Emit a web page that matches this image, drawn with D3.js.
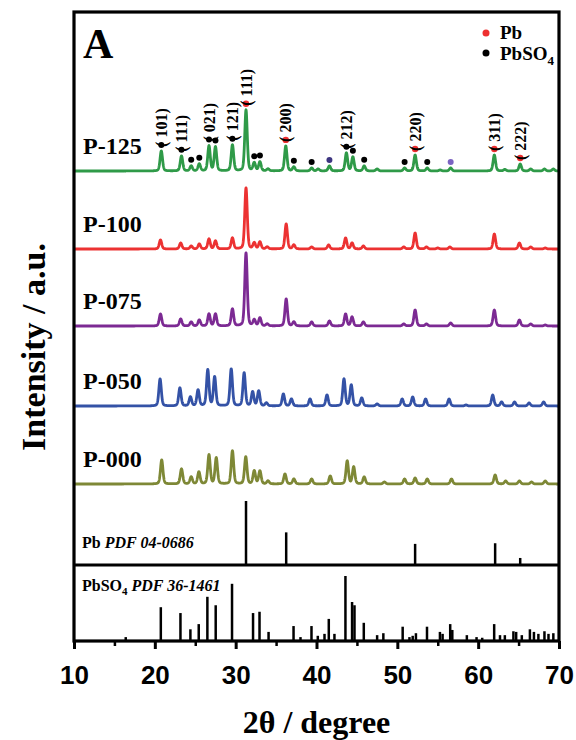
<!DOCTYPE html>
<html lang="en">
<head>
<meta charset="utf-8">
<title>XRD - P samples</title>
<script src="https://cdn.jsdelivr.net/npm/d3@7"></script>
<style>
  body { margin: 0; background: #fff; }
  text { font-family: "Liberation Serif", "Times New Roman", serif; font-weight: bold; }
</style>
</head>
<body>
<div id="chart"></div>
<script>
// samples, bottom to top
var samples = ["P-000", "P-050", "P-075", "P-100", "P-125"];
var sampleColors = ["#7e8836", "#3452a6", "#7c2a93", "#ec3232", "#2f9a48"];
var sampleOffsets = [81, 159, 239, 316, 394];

// peaks: [2theta, height]
var p000 = [[20.85,24],[23.3,15],[24.5,7],[25.45,12],[26.7,29],[27.6,26],[29.6,33],[31.25,27],[32.3,13],[33.0,13],[34.0,3],[36.1,10],[37.2,5],[39.4,5],[41.7,8],[43.8,23],[44.6,17],[45.9,7],[48.4,2],[50.9,5],[52.2,6],[53.7,5],[56.7,5],[62.1,9],[63.4,3],[65.1,3],[66.6,2],[68.3,3]];
var p050 = [[20.65,27],[23.1,18],[24.4,9],[25.35,16],[26.55,36],[27.4,29],[29.45,37],[31.05,33],[32.1,14],[32.85,15],[33.8,3],[35.9,12],[36.9,7],[39.2,7],[41.3,11],[43.4,27],[44.3,21],[45.6,8],[47.5,2],[50.6,7],[51.9,9],[53.5,7],[56.4,7],[58.5,1],[61.8,11],[62.9,4],[64.5,4],[66.3,3],[68.1,4]];
var p075 = [[20.7,12],[23.2,7],[24.5,4],[25.5,6],[26.7,12],[27.5,12],[29.6,17],[31.28,73],[32.3,6],[33.0,8],[33.9,2],[36.25,27],[37.2,4],[39.4,4],[41.6,5],[43.6,12],[44.4,9],[45.8,4],[50.8,2],[52.2,16],[53.6,2],[56.6,3],[62.0,16],[65.1,6],[66.5,2],[68.3,1]];
var p100 = [[20.7,9],[23.2,6],[24.5,3],[25.5,5],[26.7,10],[27.5,8],[29.6,11],[31.28,61],[32.3,6],[33.0,7],[33.9,2],[36.25,25],[37.2,4],[39.4,2],[41.5,4],[43.6,11],[44.4,6],[45.8,3],[50.8,2],[52.2,16],[53.6,2],[55.0,1],[56.5,2],[62.0,15],[65.1,6],[66.5,2],[68.3,1]];
var p125 = [[20.8,20],[23.3,15],[24.5,5],[25.5,7],[26.7,25],[27.5,24],[29.6,26],[31.28,61],[32.3,8],[33.0,9],[34.0,2],[36.2,25],[37.2,4],[39.4,3],[40.2,2],[41.6,5],[43.7,18],[44.5,14],[45.9,5],[47.5,2],[50.9,3],[52.2,16],[53.7,3],[55.3,1],[56.6,3],[62.0,16],[63.3,1.5],[65.2,7],[66.5,2],[68.2,2],[69.3,2]];
var samplePeaks = [p000, p050, p075, p100, p125];

// reference cards
var pbSticks = [[31.28,100],[36.25,51],[52.2,33],[62.1,34],[65.2,11]];
var pbso4Sticks = [[16.4,6],[20.74,52],[23.17,43],[24.4,18],[25.43,26],[26.5,68],[27.53,55],[29.55,88],[32.15,43],[32.95,45],[34.07,14],[37.16,23],[38.02,6],[39.38,23],[40.16,8],[40.99,11],[41.52,34],[42.22,11],[43.58,100],[44.4,60],[44.7,55],[45.85,28],[47.5,9],[48.27,12],[50.66,22],[51.5,6],[51.9,8],[52.3,12],[53.67,22],[55.27,14],[55.6,11],[56.54,26],[56.8,17],[58.6,9],[59.8,6],[60.5,5],[61.98,26],[62.7,9],[63.3,9],[64.36,15],[64.7,14],[65.4,9],[66.4,18],[66.9,14],[67.45,11],[68.2,15],[68.7,11],[69.3,12]];

// phase markers on P-125
var pbMarks = [31.28, 36.2, 52.2, 62.0, 65.2];
var pbso4Marks = [20.8, 23.3, 24.5, 25.5, 26.7, 27.5, 29.6, 32.3, 33.0, 37.2, 39.4, 43.7, 44.5, 45.9, 50.9, 53.7];
var otherMarks = [41.6, 56.6];
var otherMarkColors = ["#3d3580", "#7b63c2"];

var hklAngles = [20.8, 23.3, 26.7, 29.6, 31.28, 36.2, 43.7, 52.2, 62.0, 65.2];
var hklLabels = ["( 101)", "( 111)", "( 021)", "( 121)", "( 111)", "( 200)", "( 212)", "( 220)", "( 311)", "( 222)"];

var xTicks = [10, 20, 30, 40, 50, 60, 70];
var xMinor = [15, 25, 35, 45, 55, 65];

var W = 576, H = 740;
var mLeft = 74, mRight = 559, mTop = 12, mBottom = 641, mSplit = 565;

var svg = d3.select("#chart").append("svg")
    .attr("width", W).attr("height", H);

var x = d3.scaleLinear().domain([10, 70]).range([mLeft, mRight]);
var y = d3.scaleLinear().domain([0, 500]).range([mSplit, mSplit - 500]);
var yPb = d3.scaleLinear().domain([0, 100]).range([mSplit, 501]);
var ySo4 = d3.scaleLinear().domain([0, 100]).range([mBottom, 576]);

// peak shape on a 2theta grid
var fwhm = 0.36, eta = 0.3;
function profile(peaks, t) {
    var s = 0;
    peaks.forEach(function(p){
        var u = (t - p[0]) / (fwhm / 2);
        s += p[1] * (eta / (1 + u*u) + (1 - eta) * Math.exp(-Math.LN2 * u*u));
    });
    return s;
}
var grid = d3.range(10, 70.001, 0.02);

var line = d3.line().x(function(d){ return x(d[0]); }).y(function(d){ return y(d[1]); });

samplePeaks.forEach(function(peaks, i){
    var pts = grid.map(function(t){ return [t, sampleOffsets[i] + profile(peaks, t)]; });
    svg.append("path")
        .attr("d", line(pts))
        .attr("fill", "none")
        .attr("stroke", sampleColors[i])
        .attr("stroke-width", 2.8)
        .attr("stroke-linejoin", "round");
    svg.append("text")
        .attr("x", 83)
        .attr("y", y(sampleOffsets[i]) - 17)
        .attr("font-size", 24)
        .text(samples[i]);
});

// markers on top trace
function markY(t){ return y(sampleOffsets[4] + profile(p125, t)) - 6; }
svg.selectAll(".mpbso4").data(pbso4Marks).enter().append("circle")
    .attr("cx", function(d){ return x(d); }).attr("cy", markY).attr("r", 3).attr("fill", "#000");
svg.selectAll(".mother").data(otherMarks).enter().append("circle")
    .attr("cx", function(d){ return x(d); }).attr("cy", markY).attr("r", 3)
    .attr("fill", function(d, i){ return otherMarkColors[i]; });
svg.selectAll(".mpb").data(pbMarks).enter().append("circle")
    .attr("cx", function(d){ return x(d); }).attr("cy", markY).attr("r", 3.2).attr("fill", "#ee3030");

hklAngles.forEach(function(t, i){
    var yy = markY(t) + 2;
    svg.append("text")
        .attr("transform", "translate(" + x(t) + "," + yy + ") rotate(-90)")
        .attr("dy", "0.35em")
        .attr("font-size", 16)
        .attr("font-weight", "normal")
        .text(hklLabels[i]);
});

// reference sticks
svg.selectAll(".pb").data(pbSticks).enter().append("line")
    .attr("x1", function(d){ return x(d[0]); }).attr("x2", function(d){ return x(d[0]); })
    .attr("y1", mSplit).attr("y2", function(d){ return yPb(d[1]); })
    .attr("stroke", "#000").attr("stroke-width", 2.5);
svg.selectAll(".so4").data(pbso4Sticks).enter().append("line")
    .attr("x1", function(d){ return x(d[0]); }).attr("x2", function(d){ return x(d[0]); })
    .attr("y1", mBottom).attr("y2", function(d){ return ySo4(d[1]); })
    .attr("stroke", "#000").attr("stroke-width", 2.5);

var t1 = svg.append("text").attr("x", 82).attr("y", 548).attr("font-size", 16);
t1.append("tspan").text("Pb ");
t1.append("tspan").attr("font-style", "italic").text("PDF 04-0686");
var t2 = svg.append("text").attr("x", 82).attr("y", 591).attr("font-size", 16);
t2.append("tspan").text("PbSO");
t2.append("tspan").attr("font-size", 11).attr("dy", 4).text("4");
t2.append("tspan").attr("dy", -4).attr("font-style", "italic").text(" PDF 36-1461");

// frame and axis
svg.append("rect")
    .attr("x", mLeft).attr("y", mTop)
    .attr("width", mRight - mLeft).attr("height", mBottom - mTop)
    .attr("fill", "none").attr("stroke", "#000").attr("stroke-width", 3.2);
svg.append("line")
    .attr("x1", mLeft).attr("x2", mRight).attr("y1", mSplit).attr("y2", mSplit)
    .attr("stroke", "#000").attr("stroke-width", 3);

var gx = svg.append("g").attr("transform", "translate(0," + mBottom + ")")
    .call(d3.axisBottom(x).tickValues(xTicks).tickSize(8).tickSizeOuter(0).tickPadding(17));
gx.select(".domain").remove();
gx.selectAll(".tick line").attr("stroke-width", 3);
gx.selectAll(".tick text")
    .style("font-family", "'Liberation Sans', Arial, sans-serif")
    .style("font-weight", "bold")
    .attr("font-size", 26);
var gm = svg.append("g").attr("transform", "translate(0," + mBottom + ")")
    .call(d3.axisBottom(x).tickValues(xMinor).tickSize(5).tickFormat(""));
gm.select(".domain").remove();
gm.selectAll(".tick line").attr("stroke-width", 2.5);

svg.append("text")
    .attr("x", (mLeft + mRight) / 2).attr("y", 733)
    .attr("text-anchor", "middle").attr("font-size", 32)
    .text("2\u03b8 / degree");
svg.append("text")
    .attr("transform", "translate(45,347) rotate(-90)")
    .attr("text-anchor", "middle").attr("font-size", 34)
    .text("Intensity / a.u.");

svg.append("text").attr("x", 83).attr("y", 58).attr("font-size", 42).text("A");

// legend
svg.append("circle").attr("cx", 486).attr("cy", 33).attr("r", 3.5).attr("fill", "#ee3030");
svg.append("text").attr("x", 500).attr("y", 39).attr("font-size", 19).text("Pb");
svg.append("circle").attr("cx", 486).attr("cy", 53).attr("r", 3.5).attr("fill", "#000");
var lg = svg.append("text").attr("x", 500).attr("y", 60).attr("font-size", 19);
lg.append("tspan").text("PbSO");
lg.append("tspan").attr("font-size", 13).attr("dy", 5).text("4");
</script>
</body>
</html>
